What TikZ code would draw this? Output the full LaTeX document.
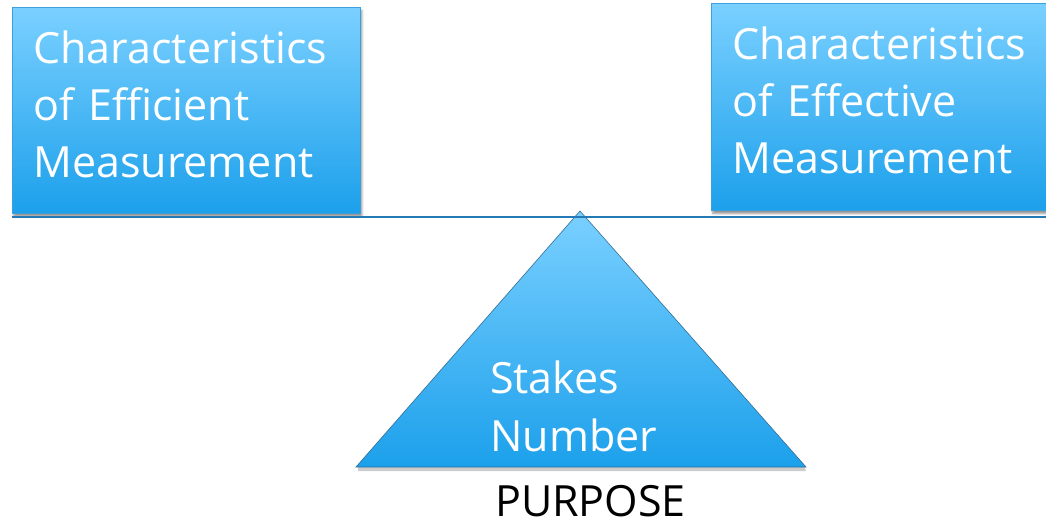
\documentclass[tikz,border=0pt]{standalone}
\usepackage{fontspec}
\setmainfont{Open Sans}
\usetikzlibrary{shadows.blur}
\definecolor{skytop}{RGB}{122,208,255}
\definecolor{skybot}{RGB}{28,160,235}
\definecolor{skyedge}{RGB}{60,160,220}
\definecolor{beam}{RGB}{36,122,182}
\definecolor{tricedge}{RGB}{50,110,150}
\begin{document}
\begin{tikzpicture}[x=1pt,y=-1pt,
  bluebox/.style={draw=skyedge, line width=0.8pt, top color=skytop, bottom color=skybot,
    blur shadow={shadow xshift=1.5pt, shadow yshift=-3pt, shadow blur steps=6, shadow opacity=45},
    anchor=north west, inner sep=0pt, inner xsep=21pt, align=left,
    font=\fontsize{43}{57}\selectfont, text=white},
  stakestext/.style={anchor=base west, inner sep=0pt, align=left,
    font=\fontsize{43}{58}\selectfont, text=white},
  caption/.style={anchor=base west, inner sep=0pt, font=\fontsize{43}{57}\selectfont, text=black}]
\useasboundingbox (0,0) rectangle (1046,522);

% fulcrum triangle
\coordinate (apex) at (580,211);
\coordinate (baseL) at (356,467);
\coordinate (baseR) at (806,467);
\fill[black!40, opacity=0.5] (358,466) -- (804,466) -- (806,471) -- (358,471) -- cycle;
\shade[top color=skytop, bottom color=skybot, draw=tricedge, line width=0.6pt]
  (apex) -- (baseR) -- (baseL) -- cycle;

% two weights on the beam
\node[bluebox, minimum width=348pt, minimum height=206pt, text width=306pt, text depth=126pt]
  (efficient) at (12,7) {Characteristics\\of Efficient\\Measurement};
\node[bluebox, minimum width=342pt, minimum height=207pt, text width=300pt, text depth=128pt]
  (effective) at (711,3) {Characteristics\\of Effective\\Measurement};

% beam resting on the apex
\coordinate (beamR) at (1046,217);
\draw[beam, line width=2.6pt] (efficient.south west |- beamR) -- (beamR);

% labels
\node[stakestext] (stakes) at (490,451) {Stakes\\Number};
\node[caption] (purpose) at (495,516) {PURPOSE};
\end{tikzpicture}
\end{document}
